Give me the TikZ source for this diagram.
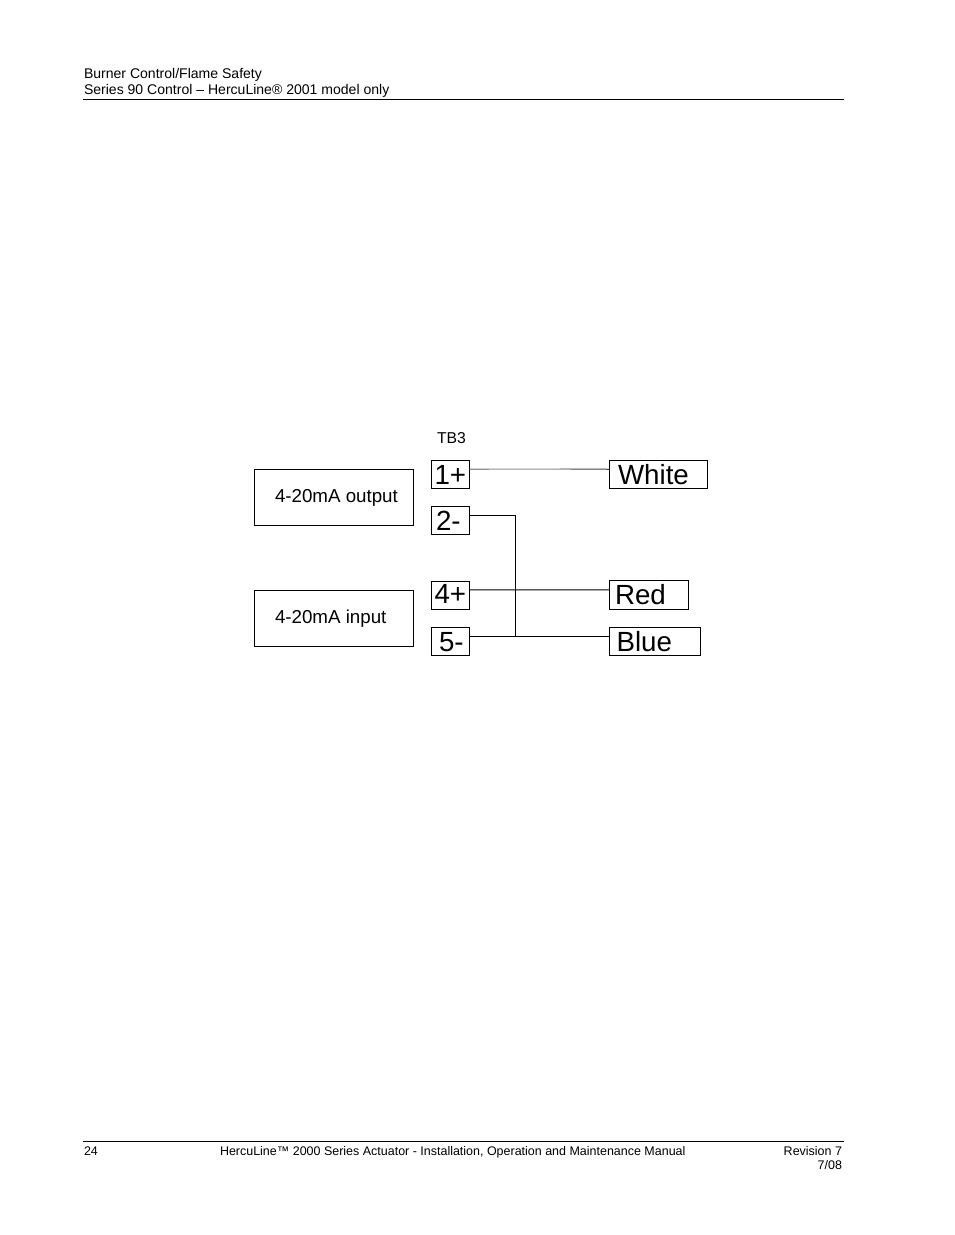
\documentclass[tikz,border=0pt]{standalone}
\usepackage{fontspec}
\setmainfont{Liberation Sans}
\usetikzlibrary{calc}
\tikzset{
  wirebox/.style={draw=black,line width=0.75pt,inner sep=0pt,outer sep=0pt,rectangle},
  txt/.style={anchor=base west,inner sep=0pt,outer sep=0pt,text=black},
  txtr/.style={anchor=base east,inner sep=0pt,outer sep=0pt,text=black},
  headfont/.style={font=\fontsize{10.53pt}{12pt}\selectfont},
  footfont/.style={font=\fontsize{9.36pt}{11pt}\selectfont},
  labfont/.style={font=\fontsize{14.05pt}{16pt}\selectfont},
  tbfont/.style={font=\fontsize{11.8pt}{14pt}\selectfont},
  bigfont/.style={font=\fontsize{20.8pt}{24pt}\selectfont},
  rule/.style={line width=0.75pt,black},
  wire/.style={line width=0.75pt,black},
  paleA/.style={line width=0.8pt,black!45},
  paleB/.style={line width=0.75pt,black!75}
}
\newcommand{\boxat}[6]{% name, x0,y0,x1,y1
  \node[wirebox,minimum width=#4*0.75pt-#2*0.75pt,minimum height=#5*0.75pt-#3*0.75pt,#6] (#1) at ({(#2+#4)/2},{(#3+#5)/2}) {};
}
\begin{document}
\begin{tikzpicture}[x=0.75pt,y=-0.75pt]
\useasboundingbox (0,0) rectangle (954,1235);
% header / footer
\coordinate (hl) at (83,99.5); \coordinate (hr) at (844,99.5);
\coordinate (fl) at (83,1141); \coordinate (fr) at (844,1141);
\draw[rule] (hl) -- (hr);
\draw[rule] (fl) -- (fr);
\node[txt,headfont] (h1) at (84,78.2) {Burner Control/Flame Safety};
\node[txt,headfont] (h2) at (84,94.2) {Series 90 Control – HercuLine® 2001 model only};
\node[txt,footfont] (f1) at (84,1155) {24};
\node[txt,footfont] (f2) at (220,1155) {HercuLine™ 2000 Series Actuator - Installation, Operation and Maintenance Manual};
\node[txtr,footfont] (f3) at (842,1155) {Revision 7};
\node[txtr,footfont] (f4) at (842,1169) {7/08};
% boxes
\boxat{outbox}{254.3}{469.3}{413.7}{525.3}{}
\boxat{inbox}{254.3}{590.3}{413.7}{646.3}{}
\boxat{t1}{431.3}{460.3}{469.7}{488.3}{}
\boxat{t2}{431.3}{506.3}{469.7}{534.3}{}
\boxat{t4}{431.3}{581}{469.7}{609}{}
\boxat{t5}{431.3}{627.3}{469.7}{655.3}{}
\boxat{white}{609.2}{460.3}{707.3}{488.3}{}
\boxat{red}{609.2}{580.7}{688.3}{609.3}{}
\boxat{blue}{609.2}{627.3}{700.7}{655.3}{}
% texts
\node[txt,labfont] (outl) at (275,502) {4-20mA output};
\node[txt,labfont] (inl) at (275,623) {4-20mA input};
\node[txt,tbfont] (tb) at (437,443.5) {TB3};
\node[txt,bigfont] (t1l) at (434.5,484.5) {1+};
\node[txt,bigfont] (t2l) at (436,530.3) {2-};
\node[txt,bigfont] (t4l) at (434.5,603.5) {4+};
\node[txt,bigfont] (t5l) at (439,651.3) {5-};
\node[txt,bigfont] (wl) at (618,484.2) {White};
\node[txt,bigfont] (rl) at (615,604.8) {Red};
\node[txt,bigfont] (bl) at (616.5,651.2) {Blue};
% connector end points
\foreach \n in {t1,t2,t4,t5}
  \coordinate (\n p) at ($(\n.north east)!0.32!(\n.south east)$);
\foreach \n in {white,red,blue}
  \coordinate (\n p) at ($(\n.north west)!0.32!(\n.south west)$);
\coordinate (mid) at (570.5,469);
\coordinate (jtop) at (515.5,515.3);
\coordinate (jbot) at (515.5,636.3);
% connectors
\draw[paleA] (t1p) -- (mid);
\draw[paleB] (mid) -- (whitep);
\draw[wire] (t2p) -- (t2p -| jtop) -- (jbot);
\draw[wire] (t4p) -- (redp);
\draw[wire] (t5p) -- (bluep);
\end{tikzpicture}
\end{document}
